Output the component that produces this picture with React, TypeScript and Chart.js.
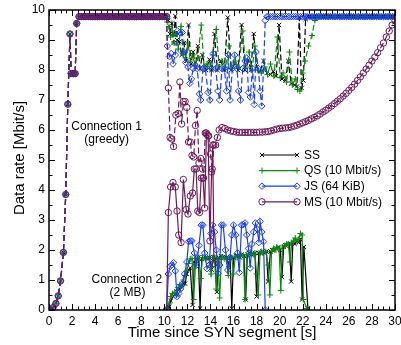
import React, { useEffect, useRef } from "react";
import { Chart, registerables } from "chart.js";
Chart.register(...registerables);

const FONT = "'Liberation Sans', Arial, Helvetica, sans-serif";

// ---------- data ----------
const xTickValues = [0, 2, 4, 6, 8, 10, 12, 14, 16, 18, 20, 22, 24, 26, 28, 30];
const yTickValues = [0, 1, 2, 3, 4, 5, 6, 7, 8, 9, 10];

const capRate = 9.78; // saturated link rate of connection 1

// slow start of connection 1 (shared by all schemes)
const startup: [number, number][] = [
  [0.1, 0], [0.35, 0.08], [0.6, 0.22], [0.8, 0.47], [1.0, 0.97], [1.25, 1.92],
  [1.45, 3.85], [1.63, 6.86], [1.82, 9.2], [1.92, 7.88], [2.1, 7.88], [2.27, 7.88], [2.4, 9.55],
];
const plateauTimes = [
  2.6, 2.8, 3.0, 3.2, 3.4, 3.6, 3.8, 4.0, 4.2, 4.4, 4.6, 4.8, 5.0, 5.2, 5.4, 5.6, 5.8, 6.0, 6.2, 6.4,
  6.6, 6.8, 7.0, 7.2, 7.4, 7.6, 7.8, 8.0, 8.2, 8.4, 8.6, 8.8, 9.0, 9.2, 9.4, 9.6, 9.8, 10.0, 10.2,
];
const lateCapTimes = [
  19.0, 19.2, 19.4, 19.6, 19.8, 20.0, 20.2, 20.4, 20.6, 20.8, 21.0, 21.2, 21.4, 21.6, 21.8, 22.0,
  22.2, 22.4, 22.6, 22.8, 23.0, 23.2, 23.4, 23.6, 23.8, 24.0, 24.2, 24.4, 24.6, 24.8, 25.0, 25.2,
  25.4, 25.6, 25.8, 26.0, 26.2, 26.4, 26.6, 26.8, 27.0, 27.2, 27.4, 27.6, 27.8, 28.0, 28.2, 28.4,
  28.6, 28.8, 29.0, 29.2, 29.4, 29.6, 29.8, 30.0,
];

// Connection 1 after connection 2 starts
const ssConn1: [number, number][] = [
  [10.35, 9.65], [10.5, 9.2], [10.65, 9.55], [10.8, 8.9], [10.95, 9.8], [11.1, 9.0], [11.3, 8.95],
  [11.5, 8.5], [11.7, 8.9], [11.9, 8.3], [12.1, 9.5], [12.3, 8.2], [12.5, 8.6], [12.7, 8.1],
  [12.9, 8.8], [13.1, 8.05], [13.3, 8.5], [13.6, 8.0], [13.9, 8.35], [14.1, 8.0], [14.35, 9.2],
  [14.6, 8.0], [14.9, 8.3], [15.2, 8.0], [15.5, 9.75], [15.8, 8.0], [16.1, 8.2], [16.4, 8.0],
  [16.7, 9.5], [17.0, 8.0], [17.3, 8.3], [17.5, 8.0], [17.75, 9.2], [18.0, 8.1], [18.3, 7.95],
  [18.6, 8.3], [18.9, 7.9], [19.2, 7.85], [19.45, 7.95], [19.7, 7.8], [19.95, 9.5], [20.2, 7.7],
  [20.5, 7.65], [20.75, 8.3], [21.0, 7.55], [21.3, 7.5], [21.5, 7.45], [21.7, 9.75], [21.9, 7.4],
  [22.05, 7.65], [22.25, 9.7], [22.45, 9.78],
];
const qsConn1: [number, number][] = [
  [10.25, 9.6], [10.4, 9.45], [10.55, 9.1], [10.7, 9.3], [10.85, 8.9], [11.0, 9.2], [11.2, 8.7],
  [11.45, 9.45], [11.65, 8.5], [11.85, 8.4], [12.05, 8.9], [12.25, 8.3], [12.45, 8.5], [12.65, 8.2],
  [12.9, 8.4], [13.2, 9.5], [13.45, 8.1], [13.7, 8.2], [13.95, 8.05], [14.2, 8.5], [14.5, 9.35],
  [14.75, 8.1], [15.0, 8.3], [15.3, 8.1], [15.6, 8.8], [15.85, 8.05], [16.15, 8.3], [16.45, 8.1],
  [16.8, 9.3], [17.05, 8.1], [17.35, 8.6], [17.6, 8.0], [17.85, 8.8], [18.1, 8.0], [18.4, 7.9],
  [18.7, 8.1], [18.95, 7.85], [19.2, 8.2], [19.5, 7.8], [19.8, 9.1], [20.05, 7.75], [20.3, 7.9],
  [20.6, 7.6], [20.85, 8.6], [21.1, 7.5], [21.35, 7.7], [21.55, 7.35], [21.75, 7.3], [22.0, 7.9],
  [22.2, 8.3], [22.5, 8.8], [22.8, 9.15], [23.05, 9.65], [23.3, 9.78],
];
const jsConn1: [number, number][] = [
  [10.25, 8.8], [10.45, 8.45], [10.6, 8.55], [10.75, 8.2], [10.95, 8.5], [11.15, 9.3], [11.35, 9.25],
  [11.55, 9.25], [11.7, 8.6], [11.85, 8.25], [12.05, 8.1], [12.2, 7.55], [12.35, 7.7], [12.5, 8.05],
  [12.7, 8.15], [12.85, 8.05], [13.05, 7.2], [13.15, 7.0], [13.35, 8.05], [13.55, 8.05], [13.8, 7.25],
  [13.95, 7.0], [14.1, 8.05], [14.25, 8.55], [14.45, 8.05], [14.65, 7.3], [14.8, 7.0], [15.0, 8.05],
  [15.2, 8.05], [15.4, 7.3], [15.55, 8.5], [15.7, 7.0], [15.9, 8.05], [16.1, 8.5], [16.3, 8.05],
  [16.45, 7.3], [16.6, 7.0], [16.8, 8.05], [17.0, 8.3], [17.15, 8.4], [17.3, 7.25], [17.45, 7.1],
  [17.65, 8.05], [17.8, 6.85], [17.95, 8.6], [18.15, 8.05], [18.3, 7.3], [18.45, 6.8], [18.6, 8.05],
  [18.75, 9.65], [18.9, 9.78],
];
const msConn1: [number, number][] = [
  [10.35, 7.4], [10.5, 5.75], [10.65, 5.7], [10.8, 5.45], [11.0, 6.5], [11.2, 6.55], [11.35, 7.6],
  [11.5, 6.2], [11.65, 6.95], [11.8, 6.95], [11.95, 6.75], [12.1, 5.6], [12.25, 5.6], [12.4, 5.15],
  [12.55, 5.1], [12.7, 6.15], [12.85, 6.65], [13.0, 4.9], [13.15, 5.05], [13.3, 4.7], [13.4, 4.4],
  [13.55, 5.9], [13.7, 5.85], [13.85, 5.8], [14.0, 5.2], [14.15, 4.7], [14.3, 5.5], [14.45, 5.5],
  [14.6, 5.75], [14.75, 6.0], [15.0, 6.08], [15.25, 6.05], [15.5, 6.0], [15.75, 5.97], [16.0, 5.95],
  [16.25, 5.93], [16.5, 5.92], [16.75, 5.92], [17.0, 5.92], [17.25, 5.92], [17.5, 5.92], [17.75, 5.92],
  [18.0, 5.92], [18.25, 5.93], [18.5, 5.93], [18.75, 5.94], [19.0, 5.95], [19.25, 5.97], [19.5, 6.0],
  [19.75, 6.03], [20.0, 6.05], [20.25, 6.06], [20.5, 6.07], [20.75, 6.08], [21.0, 6.1], [21.25, 6.13],
  [21.5, 6.16], [21.75, 6.2], [22.0, 6.24], [22.25, 6.28], [22.5, 6.32], [22.75, 6.37], [23.0, 6.42],
  [23.25, 6.47], [23.5, 6.53], [23.75, 6.6], [24.0, 6.66], [24.25, 6.73], [24.5, 6.8], [24.75, 6.88],
  [25.0, 6.96], [25.25, 7.04], [25.5, 7.13], [25.75, 7.22], [26.0, 7.32], [26.25, 7.42], [26.5, 7.53],
  [26.75, 7.65], [27.0, 7.77], [27.25, 7.9], [27.5, 8.03], [27.75, 8.16], [28.0, 8.3], [28.25, 8.43],
  [28.5, 8.58], [28.75, 8.74], [29.0, 8.9], [29.25, 9.1], [29.5, 9.3], [29.75, 9.5], [30.0, 9.65],
];

// Connection 2 (2 MB transfer)
const ssConn2: [number, number][] = [
  [10.2, 0], [10.4, 0.1], [10.55, 0.3], [10.75, 0.45], [10.9, 0.5], [11.1, 0.6], [11.3, 0.7],
  [11.5, 0.8], [11.65, 0.9], [11.8, 0.88], [11.95, 1.2], [12.1, 1.35], [12.25, 1.4], [12.45, 0.17],
  [12.6, 1.6], [12.8, 1.75], [12.95, 1.75], [13.1, 0.05], [13.25, 1.7], [13.4, 1.75], [13.6, 1.75],
  [13.75, 1.7], [13.9, 1.75], [14.1, 1.35], [14.25, 1.75], [14.4, 1.75], [14.55, 0.6], [14.7, 1.75],
  [14.9, 1.8], [15.05, 1.75], [15.2, 1.75], [15.4, 1.75], [15.55, 1.5], [15.7, 1.75], [15.85, 0.05],
  [16.0, 1.75], [16.2, 1.8], [16.35, 1.8], [16.55, 1.75], [16.7, 1.85], [16.9, 1.8], [17.05, 0.35],
  [17.2, 1.85], [17.35, 1.9], [17.55, 1.85], [17.7, 1.85], [17.85, 1.9], [18.0, 0.45], [18.2, 1.9],
  [18.35, 1.9], [18.5, 1.95], [18.7, 1.9], [18.85, 1.95], [19.0, 0.95], [19.2, 1.95], [19.35, 2.0],
  [19.55, 2.0], [19.7, 2.05], [19.9, 2.1], [20.05, 2.0], [20.2, 1.1], [20.35, 2.1], [20.5, 2.15],
  [20.65, 2.15], [20.85, 2.2], [21.0, 0.95], [21.15, 2.25], [21.3, 2.2], [21.5, 2.3], [21.65, 2.25],
  [21.8, 2.35], [21.95, 0.35], [22.1, 2.1], [22.45, 0.05],
];
const qsConn2: [number, number][] = [
  [10.2, 0.05], [10.4, 0.2], [10.55, 0.45], [10.7, 0.55], [10.9, 0.6], [11.05, 0.5], [11.2, 0.75],
  [11.35, 0.85], [11.5, 0.8], [11.65, 1.0], [11.8, 1.15], [11.95, 1.3], [12.1, 1.55], [12.25, 1.7],
  [12.4, 1.72], [12.55, 0.35], [12.7, 1.5], [12.85, 1.75], [13.0, 1.75], [13.15, 1.05], [13.3, 1.75],
  [13.45, 1.75], [13.6, 1.7], [13.75, 1.75], [13.9, 1.75], [14.05, 1.2], [14.2, 1.75], [14.35, 1.75],
  [14.5, 0.7], [14.65, 1.7], [14.8, 0.4], [14.95, 1.75], [15.1, 1.75], [15.25, 1.7], [15.4, 1.75],
  [15.55, 1.15], [15.7, 1.75], [15.85, 1.75], [16.0, 1.2], [16.15, 1.8], [16.3, 1.75], [16.5, 1.8],
  [16.65, 1.85], [16.85, 1.8], [17.0, 0.35], [17.15, 1.85], [17.3, 1.85], [17.5, 1.9], [17.7, 1.85],
  [17.85, 1.9], [18.0, 1.2], [18.15, 0.5], [18.3, 1.9], [18.45, 1.95], [18.6, 1.9], [18.8, 1.95],
  [19.0, 1.5], [19.15, 0.5], [19.3, 1.95], [19.45, 2.05], [19.6, 2.0], [19.75, 2.1], [19.95, 2.05],
  [20.1, 0.65], [20.25, 2.1], [20.45, 2.15], [20.6, 2.2], [20.75, 2.2], [20.9, 1.6], [21.05, 2.25],
  [21.2, 2.3], [21.35, 2.4], [21.5, 2.3], [21.65, 2.35], [21.8, 2.55], [21.95, 2.5], [22.05, 0.35],
  [22.35, 0.05],
];
const jsConn2: [number, number][] = [
  [10.2, 0], [10.35, 1.2], [10.5, 1.45], [10.65, 1.5], [10.8, 1.58], [10.95, 1.3], [11.1, 0.45],
  [11.25, 0.55], [11.4, 0.7], [11.55, 0.85], [11.75, 1.2], [11.95, 1.6], [12.1, 2.28], [12.25, 2.3],
  [12.4, 2.3], [12.6, 1.9], [12.8, 1.5], [13.0, 2.15], [13.2, 2.83], [13.35, 2.83], [13.5, 1.9],
  [13.7, 1.38], [13.9, 1.5], [14.05, 2.55], [14.2, 2.83], [14.35, 2.6], [14.5, 2.0], [14.65, 1.22],
  [14.8, 1.5], [14.95, 2.83], [15.1, 2.83], [15.3, 2.0], [15.5, 1.33], [15.7, 1.75], [15.85, 2.5],
  [16.0, 2.83], [16.2, 2.5], [16.35, 1.9], [16.5, 1.25], [16.7, 2.83], [16.85, 2.85], [17.0, 2.9],
  [17.15, 2.5], [17.3, 2.05], [17.45, 1.4], [17.6, 2.2], [17.75, 2.6], [17.9, 2.9], [18.05, 2.7],
  [18.2, 2.25], [18.3, 2.95], [18.45, 2.6], [18.6, 2.28], [18.75, 0],
];
const msConn2: [number, number][] = [
  [10.2, 0], [10.35, 3.25], [10.55, 4.1], [10.75, 4.25], [10.95, 4.1], [11.1, 3.3], [11.25, 2.5],
  [11.45, 2.25], [11.65, 4.35], [11.9, 3.35], [12.05, 3.2], [12.25, 3.8], [12.45, 3.9], [12.6, 4.7],
  [12.75, 4.7], [12.9, 3.3], [13.05, 3.25], [13.2, 4.4], [13.35, 4.4], [13.5, 3.4], [13.65, 5.9],
  [13.8, 5.8], [13.95, 2.3], [14.1, 4.6], [14.2, 5.5], [14.3, 1.55],
];

// ---------- styling ----------
const COLORS = { SS: "#000000", QS: "#0a8a0a", JS: "#1a3cff", MS: "#6e1a5a" };
const legendEntries = [
  { label: "SS", color: COLORS.SS, style: "crossRot", r: 3 },
  { label: "QS (10 Mbit/s)", color: COLORS.QS, style: "cross", r: 3 },
  { label: "JS (64 KiB)", color: COLORS.JS, style: "rectRot", r: 3.3 },
  { label: "MS (10 Mbit/s)", color: COLORS.MS, style: "circle", r: 3.2 },
];

const pts = (arr: [number, number][]) => arr.map(([x, y]) => ({ x, y }));
const plateau: [number, number][] = plateauTimes.map((t) => [t, capRate]);
const lateCap = (after: number): [number, number][] =>
  lateCapTimes.filter((t) => t > after).map((t) => [t, capRate]);

function drawMarker(ctx: CanvasRenderingContext2D, style: string, x: number, y: number, r: number) {
  ctx.beginPath();
  if (style === "crossRot") {
    const d = r * Math.SQRT1_2;
    ctx.moveTo(x - d, y - d); ctx.lineTo(x + d, y + d);
    ctx.moveTo(x - d, y + d); ctx.lineTo(x + d, y - d);
  } else if (style === "cross") {
    ctx.moveTo(x - r, y); ctx.lineTo(x + r, y);
    ctx.moveTo(x, y - r); ctx.lineTo(x, y + r);
  } else if (style === "rectRot") {
    ctx.moveTo(x, y - r); ctx.lineTo(x + r, y); ctx.lineTo(x, y + r); ctx.lineTo(x - r, y); ctx.closePath();
  } else {
    ctx.arc(x, y, r, 0, Math.PI * 2);
  }
  ctx.stroke();
}

const framePlugin = {
  id: "frameTicks",
  afterDatasetsDraw(chart: any) {
    const { ctx, chartArea: a, scales } = chart;
    const xs = scales.x, ys = scales.y;
    ctx.save();
    ctx.strokeStyle = "#000";
    ctx.lineWidth = 1;
    ctx.beginPath();
    for (let i = 0; i <= 60; i++) {
      const v = i * 0.5;
      const px = Math.round(xs.getPixelForValue(v)) + 0.5;
      const L = i % 4 === 0 ? 6 : 3.5;
      ctx.moveTo(px, a.bottom); ctx.lineTo(px, a.bottom - L);
      ctx.moveTo(px, a.top); ctx.lineTo(px, a.top + L);
    }
    for (let i = 0; i <= 20; i++) {
      const v = i * 0.5;
      const py = Math.round(ys.getPixelForValue(v)) + 0.5;
      const L = i % 2 === 0 ? 6 : 3.5;
      ctx.moveTo(a.left, py); ctx.lineTo(a.left + L, py);
      ctx.moveTo(a.right, py); ctx.lineTo(a.right - L, py);
    }
    ctx.stroke();
    ctx.lineWidth = 1.5;
    ctx.strokeRect(a.left, a.top, a.right - a.left, a.bottom - a.top);
    ctx.restore();
  },
  afterDraw(chart: any) {
    const { ctx, chartArea: a, scales } = chart;
    const xs = scales.x, ys = scales.y;
    ctx.save();
    // axis titles
    ctx.fillStyle = "#000";
    ctx.font = `15px ${FONT}`;
    ctx.textAlign = "center";
    ctx.textBaseline = "alphabetic";
    ctx.fillText("Time since SYN segment [s]", (a.left + a.right) / 2, 337);
    ctx.save();
    ctx.translate(23.5, (a.top + a.bottom) / 2 - 2);
    ctx.rotate(-Math.PI / 2);
    ctx.fillText("Data rate [Mbit/s]", 0, 0);
    ctx.restore();
    // annotations
    ctx.font = `12px ${FONT}`;
    ctx.textBaseline = "middle";
    ctx.fillText("Connection 1", xs.getPixelForValue(5.0), ys.getPixelForValue(6.1));
    ctx.fillText("(greedy)", xs.getPixelForValue(5.0), ys.getPixelForValue(5.68));
    ctx.fillText("Connection 2", xs.getPixelForValue(6.75), ys.getPixelForValue(1.0));
    ctx.fillText("(2 MB)", xs.getPixelForValue(6.8), ys.getPixelForValue(0.57));
    // legend
    const x1 = a.right - 133, x2 = a.right - 98, tx = a.right - 91;
    legendEntries.forEach((e, i) => {
      const y = 155 + i * 15.6;
      ctx.strokeStyle = e.color;
      ctx.lineWidth = 1.2;
      ctx.setLineDash([]);
      ctx.beginPath(); ctx.moveTo(x1, y); ctx.lineTo(x2, y); ctx.stroke();
      ctx.lineWidth = 1;
      drawMarker(ctx, e.style, x1, y, e.r);
      drawMarker(ctx, e.style, x2, y, e.r);
      ctx.fillStyle = "#000";
      ctx.textAlign = "left";
      ctx.fillText(e.label, tx, y + 0.5);
    });
    ctx.restore();
  },
};

function ds(data: [number, number][], color: string, style: string, r: number, dashed: boolean) {
  return {
    data: pts(data),
    borderColor: color,
    backgroundColor: color,
    borderWidth: 1.2,
    borderDash: dashed ? [6, 3] : [],
    pointStyle: style,
    pointRadius: r,
    pointBorderWidth: 1,
    pointBorderColor: color,
    pointBackgroundColor: "rgba(255,255,255,0)",
    pointHoverRadius: r,
    tension: 0,
    fill: false,
  };
}

export default function App() {
  const ref = useRef<HTMLCanvasElement | null>(null);
  useEffect(() => {
    if (!ref.current) return;
    const datasets = [
      ds([...startup, ...plateau, ...msConn1], COLORS.MS, "circle", 3.2, true),
      ds(msConn2, COLORS.MS, "circle", 3.2, false),
      ds([...startup, ...plateau, ...jsConn1, ...lateCap(18.9)], COLORS.JS, "rectRot", 3.3, true),
      ds(jsConn2, COLORS.JS, "rectRot", 3.3, false),
      ds([...startup, ...plateau, ...qsConn1, ...lateCap(23.3)], COLORS.QS, "cross", 3, true),
      ds(qsConn2, COLORS.QS, "cross", 3, false),
      ds([...startup, ...plateau, ...ssConn1, ...lateCap(22.45)], COLORS.SS, "crossRot", 3, true),
      ds(ssConn2, COLORS.SS, "crossRot", 3, false),
    ];
    const chart = new Chart(ref.current, {
      type: "line",
      data: { datasets } as any,
      options: {
        animation: false,
        responsive: false,
        devicePixelRatio: 1,
        events: [],
        layout: { padding: { top: 10, right: 6, left: 0, bottom: 0 } },
        plugins: { legend: { display: false }, tooltip: { enabled: false } },
        scales: {
          x: {
            type: "linear",
            min: 0,
            max: 30,
            afterBuildTicks: (s: any) => { s.ticks = xTickValues.map((v) => ({ value: v })); },
            afterFit: (s: any) => { s.height = 35; s.paddingLeft = 0; s.paddingRight = 0; },
            grid: { display: false, drawTicks: false },
            border: { display: false },
            ticks: { color: "#000", padding: 4, maxRotation: 0, autoSkip: false, font: { family: FONT, size: 12, lineHeight: 1.2 } },
          },
          y: {
            type: "linear",
            min: 0,
            max: 10,
            afterBuildTicks: (s: any) => { s.ticks = yTickValues.map((v) => ({ value: v })); },
            afterFit: (s: any) => { s.width = 49; s.paddingTop = 0; s.paddingBottom = 0; },
            grid: { display: false, drawTicks: false },
            border: { display: false },
            ticks: { color: "#000", padding: 4, autoSkip: false, font: { family: FONT, size: 12, lineHeight: 1.2 } },
          },
        },
      } as any,
      plugins: [framePlugin],
    });
    return () => chart.destroy();
  }, []);
  return (
    <div style={{ position: "absolute", left: 0, top: 0, width: 401, height: 345, background: "#fff" }}>
      <canvas ref={ref} width={401} height={345} style={{ display: "block", width: 401, height: 345 }} />
    </div>
  );
}
